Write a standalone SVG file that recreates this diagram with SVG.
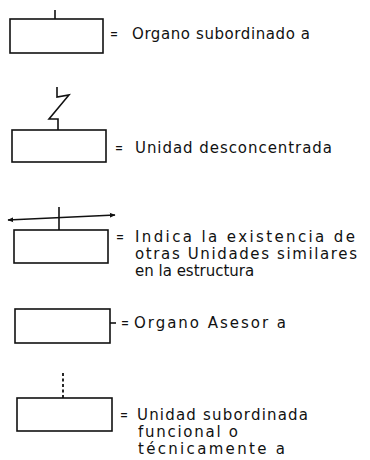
<svg xmlns="http://www.w3.org/2000/svg" width="370" height="460" viewBox="0 0 370 460">
<style>
.box{fill:none;stroke:#111;stroke-width:1.6}
.ln{fill:none;stroke:#111;stroke-width:1.6;stroke-linejoin:miter}
.dot{fill:none;stroke:#111;stroke-width:1.8;stroke-dasharray:3,2.5}
.t{font-family:"DejaVu Sans",sans-serif;font-size:15px;fill:#111}
</style>
<defs>
<marker id="ah" viewBox="0 0 10 10" refX="9" refY="5" markerWidth="6" markerHeight="6" orient="auto-start-reverse" markerUnits="userSpaceOnUse">
<path d="M0,1 L10,5 L0,9 Z" fill="#111"/>
</marker>
</defs>
<rect width="370" height="460" fill="#fff"/>
<g id="connectors">
<line class="ln" x1="55" y1="10" x2="55" y2="19"/>
<path class="ln" d="M57,87 L57,97 L69,95 L49,119 L58,119 L58,130"/>
<line class="ln" x1="8" y1="220" x2="115" y2="215" marker-start="url(#ah)" marker-end="url(#ah)"/>
<line class="ln" x1="59" y1="207" x2="59" y2="230"/>
<line class="ln" x1="110" y1="323" x2="116" y2="323"/>
<line class="dot" x1="63" y1="373" x2="63" y2="398"/>
</g>
<g id="node1">
<rect class="box" x="10" y="19" width="93" height="34"/>
<text class="t" x="110" y="39" textLength="8" lengthAdjust="spacingAndGlyphs">=</text>
<text class="t" x="132" y="39" textLength="178" lengthAdjust="spacing">Organo subordinado a</text>
</g>
<g id="node2">
<rect class="box" x="12" y="130" width="94" height="32"/>
<text class="t" x="115" y="153" textLength="8" lengthAdjust="spacingAndGlyphs">=</text>
<text class="t" x="135" y="153" textLength="197" lengthAdjust="spacing">Unidad desconcentrada</text>
</g>
<g id="node3">
<rect class="box" x="14" y="230" width="94" height="33"/>
<text class="t" x="116" y="242" textLength="8" lengthAdjust="spacingAndGlyphs">=</text>
<text class="t" x="135" y="242" textLength="220" lengthAdjust="spacing">Indica la existencia de</text>
<text class="t" x="135" y="259" textLength="222" lengthAdjust="spacing">otras Unidades similares</text>
<text class="t" x="135" y="276">en la estructura</text>
</g>
<g id="node4">
<rect class="box" x="15" y="309" width="95" height="34"/>
<text class="t" x="121" y="328" textLength="8" lengthAdjust="spacingAndGlyphs">=</text>
<text class="t" x="134" y="328" textLength="152" lengthAdjust="spacing">Organo Asesor a</text>
</g>
<g id="node5">
<rect class="box" x="17" y="398" width="95" height="33"/>
<text class="t" x="120" y="420" textLength="8" lengthAdjust="spacingAndGlyphs">=</text>
<text class="t" x="137" y="420" textLength="171" lengthAdjust="spacing">Unidad subordinada</text>
<text class="t" x="138" y="437" textLength="100" lengthAdjust="spacing">funcional o</text>
<text class="t" x="138" y="454" textLength="147" lengthAdjust="spacing">técnicamente a</text>
</g>
</svg>
